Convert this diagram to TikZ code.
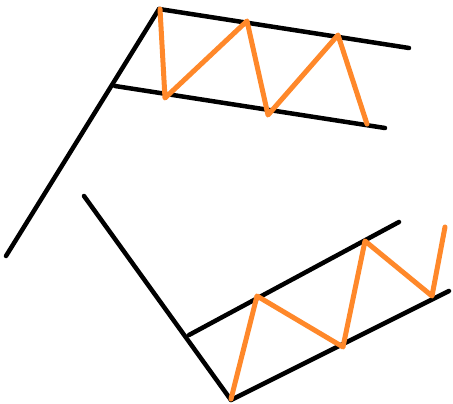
\documentclass[tikz,border=0pt]{standalone}
\definecolor{zigorange}{RGB}{255,136,42}
\begin{document}
\begin{tikzpicture}[x=1pt,y=-1pt,
  blk/.style={draw=black,line width=4.5pt,line cap=round,line join=round},
  org/.style={draw=zigorange,line width=5pt,line cap=round,line join=round}]
\useasboundingbox (0,0) rectangle (453,404);
% top flag
\coordinate (p0) at (6,256);
\coordinate (p1) at (159,9);
\coordinate (u1) at (409,48);
\coordinate (l0) at (115,86);
\coordinate (l1) at (385,128);
\draw[blk] (p0) -- (p1);
\draw[blk] (p1) -- (u1);
\draw[blk] (l0) -- (l1);
\coordinate (a0) at (160,9);
\coordinate (a1) at (165,98);
\coordinate (a2) at (247,21);
\coordinate (a3) at (268,115);
\coordinate (a4) at (338,35);
\coordinate (a5) at (367,124);
\draw[org] (a0) -- (a1) -- (a2) -- (a3) -- (a4) -- (a5);
% bottom flag
\coordinate (q0) at (84,196);
\coordinate (q1) at (231,400);
\coordinate (v0) at (189,335);
\coordinate (v1) at (399,222);
\coordinate (w1) at (449,291);
\draw[blk] (q0) -- (q1);
\draw[blk] (v0) -- (v1);
\draw[blk] (q1) -- (w1);
\coordinate (b0) at (231,399);
\coordinate (b1) at (257,296);
\coordinate (b2) at (343,347);
\coordinate (b3) at (365,241);
\coordinate (b4) at (432,296);
\coordinate (b5) at (445,227);
\draw[org] (b0) -- (b1) -- (b2) -- (b3) -- (b4) -- (b5);
\end{tikzpicture}
\end{document}
